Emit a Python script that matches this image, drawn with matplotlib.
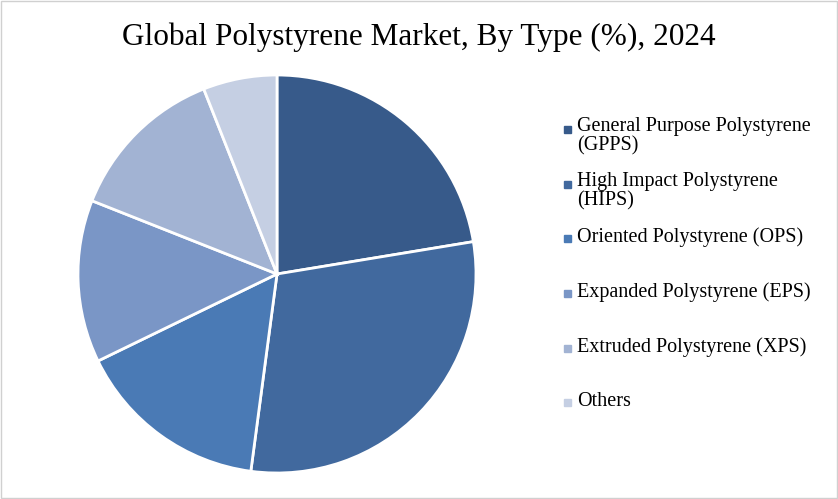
import matplotlib
matplotlib.use("Agg")
import matplotlib.pyplot as plt
from matplotlib.patches import Rectangle

labels = ["General Purpose Polystyrene\n(GPPS)", "High Impact Polystyrene\n(HIPS)",
          "Oriented Polystyrene (OPS)", "Expanded Polystyrene (EPS)",
          "Extruded Polystyrene (XPS)", "Others"]
values = [22.4, 29.7, 15.7, 13.2, 13.0, 6.0]
colors = ["#375A8A", "#41699E", "#4A7AB5", "#7A96C6", "#A2B3D3", "#C5CFE3"]

plt.rcParams['font.family'] = ['Liberation Serif', 'DejaVu Serif']
fig = plt.figure(figsize=(8.38, 4.99), dpi=100)
fig.patches.append(Rectangle((0.001, 0.002), 0.998, 0.996, transform=fig.transFigure,
                             fill=False, edgecolor="#d0d0d0", lw=1))
R = 199
ax = fig.add_axes([(277 - R)/838, 1 - (274 + R)/499, 2*R/838, 2*R/499])
ax.pie(values, colors=colors, startangle=90, counterclock=False, radius=1,
       wedgeprops=dict(edgecolor="white", linewidth=2))
ax.set_xlim(-1, 1); ax.set_ylim(-1, 1)
ax.set_aspect('equal')
fig.text(0.5, 1 - 37/499, "Global Polystyrene Market, By Type (%), 2024",
         ha="center", va="center", fontsize=22.5)
ys = [128, 183, 237, 292, 347, 401]
for y, lab, c in zip(ys, labels, colors):
    fig.patches.append(Rectangle((564/838, 1 - (y + 5)/499), 7/838, 7/499,
                                 transform=fig.transFigure, color=c))
    if '\n' in lab:
        fig.text(577/838, 1 - (y - 11)/499, lab, ha="left", va="top",
                 fontsize=14.5, linespacing=1.0)
    else:
        fig.text(577/838, 1 - y/499, lab, ha="left", va="center", fontsize=14.5)
fig.savefig("out.png", dpi=100)
